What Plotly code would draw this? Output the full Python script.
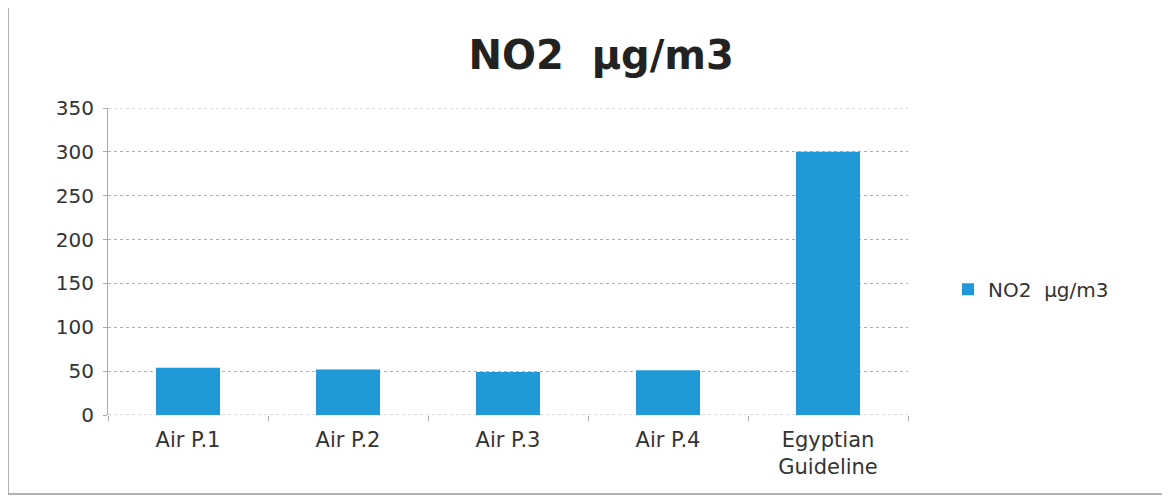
import plotly.graph_objects as go

categories = ['Air P.1', 'Air P.2', 'Air P.3', 'Air P.4', 'Egyptian<br>Guideline']
no2_values = [54, 52, 49, 51, 300]
y_ticks = [0, 50, 100, 150, 200, 250, 300, 350]
series_name = 'NO2  \u00b5g/m3'

fig = go.Figure()
fig.add_trace(go.Bar(
    x=categories, y=no2_values, name=series_name,
    marker=dict(color='#2198d8', line=dict(width=0)),
    width=0.4, showlegend=True
))

fig.update_layout(
    width=1170, height=496,
    paper_bgcolor='white', plot_bgcolor='white',
    margin=dict(l=100, r=270, t=100, b=89),
    font=dict(family='DejaVu Sans, sans-serif', color='#333333'),
    title=dict(text='<b>NO2  \u00b5g/m3</b>', x=0.507, xanchor='center', y=0.905, yanchor='middle',
               font=dict(size=40, color='#222222')),
    legend=dict(x=1.05, y=0.41, xanchor='left', yanchor='middle',
                font=dict(size=20, color='#333333')),
)
fig.update_xaxes(
    showgrid=False, tickfont=dict(size=21, color='#333333'),
    ticks='outside', tickson='boundaries', ticklen=5, tickcolor='#aaaaaa',
    showline=False, zeroline=False, ticklabelstandoff=10
)
fig.update_yaxes(
    range=[0, 350], tickvals=y_ticks, showgrid=True,
    gridcolor='#b0b0b0', griddash='dot', gridwidth=1,
    showline=True, linecolor='#aaaaaa', linewidth=1,
    ticks='outside', ticklen=4, tickcolor='#aaaaaa',
    tickfont=dict(size=20, color='#333333'), zeroline=False,
    ticklabelstandoff=5
)
# dotted lines at the axis ends (0 and 350), like the other gridlines
for yv in (y_ticks[0], y_ticks[-1]):
    fig.add_hline(y=yv, line=dict(color='#b0b0b0', dash='dot', width=1), layer='below')
fig.add_shape(type='rect', xref='paper', yref='paper', x0=-0.125, x1=1.325, y0=-0.257, y1=1.335,
              line=dict(color='#999999', width=1.5))

fig.write_html("out.html")
